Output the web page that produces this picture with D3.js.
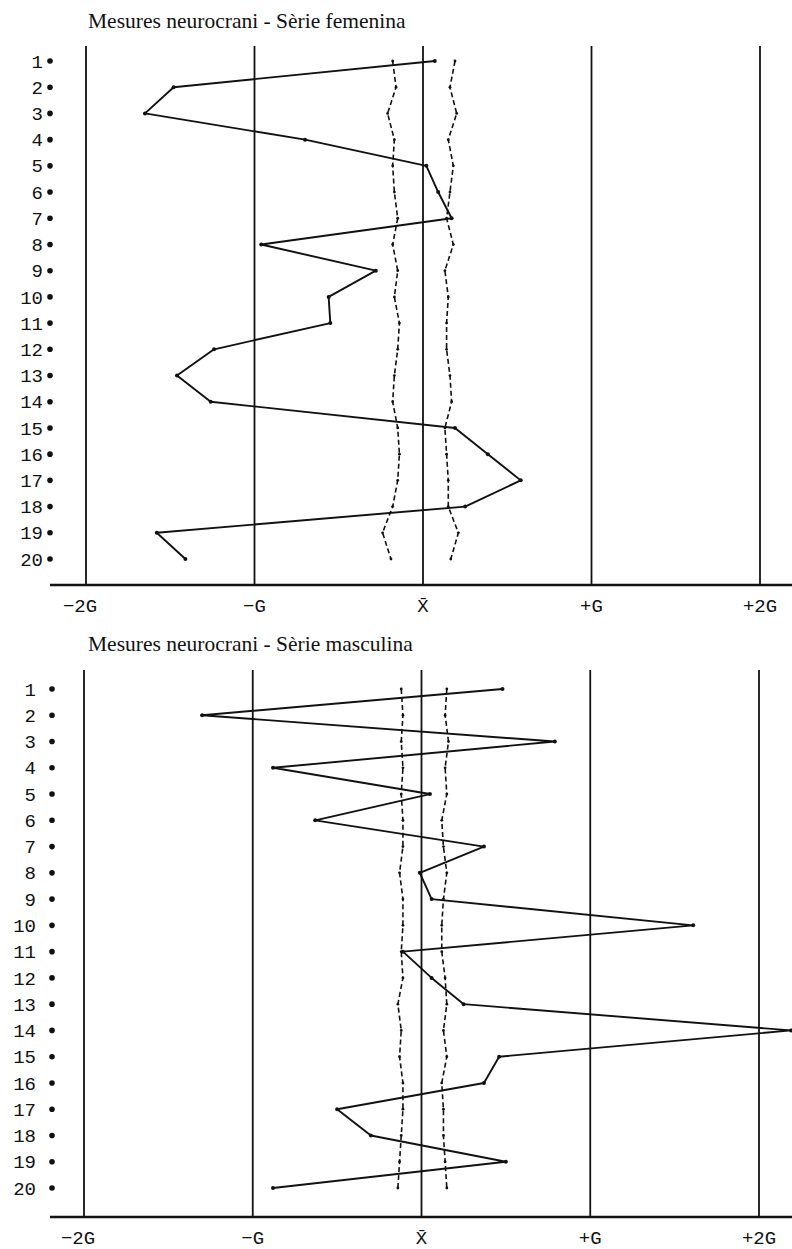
<!DOCTYPE html>
<html><head><meta charset="utf-8">
<script src="https://cdn.jsdelivr.net/npm/d3@7"></script>
<style>body{margin:0;background:#fff}</style>
</head><body>
<svg id="c" width="792" height="1249"></svg>
<script>
const rows = d3.range(1, 21);
const tickValues = [-2, -1, 0, 1, 2];
const tickLabels = ["\u22122G", "\u2212G", "X\u0304", "+G", "+2G"];

const femTitle = "Mesures neurocrani - Sèrie femenina";
const femValues = [0.07,-1.48,-1.65,-0.70,0.02,0.09,0.17,-0.96,-0.28,-0.56,-0.55,-1.24,-1.46,-1.26,0.19,0.385,0.58,0.25,-1.58,-1.41];
const femLow  = [-0.18,-0.16,-0.21,-0.17,-0.18,-0.17,-0.15,-0.18,-0.15,-0.17,-0.14,-0.15,-0.17,-0.18,-0.15,-0.14,-0.15,-0.18,-0.24,-0.19];
const femHigh = [0.19,0.16,0.20,0.15,0.18,0.16,0.14,0.18,0.13,0.15,0.14,0.14,0.16,0.17,0.13,0.14,0.15,0.15,0.21,0.165];

const masTitle = "Mesures neurocrani - Sèrie masculina";
const masValues = [0.48,-1.30,0.79,-0.88,0.05,-0.63,0.37,-0.01,0.06,1.61,-0.11,0.06,0.25,2.19,0.46,0.37,-0.50,-0.30,0.50,-0.88];
const masLow  = [-0.12,-0.11,-0.12,-0.11,-0.12,-0.11,-0.11,-0.13,-0.11,-0.11,-0.12,-0.11,-0.14,-0.12,-0.13,-0.11,-0.11,-0.12,-0.13,-0.14];
const masHigh = [0.15,0.14,0.16,0.14,0.15,0.12,0.13,0.15,0.13,0.12,0.12,0.14,0.15,0.13,0.15,0.12,0.13,0.13,0.14,0.15];

const svg = d3.select("#c");

function panel(cfg){
  const g = svg.append("g");
  const x = d3.scaleLinear().domain([-2, 2]).range(cfg.xr);
  const y = d3.scaleLinear().domain([1, 20]).range(cfg.yr);

  g.append("text").attr("x", 88).attr("y", cfg.titleY)
    .attr("font-family", "Liberation Serif, Times New Roman, serif")
    .attr("font-size", 21.5).attr("fill", "#111").text(cfg.title);

  g.selectAll(".v").data(tickValues).join("line")
    .attr("x1", d => x(d)).attr("x2", d => x(d))
    .attr("y1", cfg.lineTop).attr("y2", cfg.axisY)
    .attr("stroke", "#111").attr("stroke-width", 1.8);

  g.append("line").attr("x1", 50).attr("x2", 792)
    .attr("y1", cfg.axisY).attr("y2", cfg.axisY)
    .attr("stroke", "#111").attr("stroke-width", 2.4);

  g.selectAll(".tl").data(tickValues).join("text")
    .attr("x", (d, i) => x(d) + (i === 0 ? -6 : 0))
    .attr("y", cfg.axisY + 27)
    .attr("text-anchor", "middle")
    .attr("font-family", "Liberation Mono, DejaVu Sans Mono, monospace")
    .attr("font-size", 19).attr("fill", "#111")
    .text((d, i) => tickLabels[i]);

  g.selectAll(".rl").data(rows).join("text")
    .attr("x", cfg.labelX).attr("y", d => y(d))
    .attr("dy", "0.35em").attr("text-anchor", "end")
    .attr("font-family", "Liberation Mono, DejaVu Sans Mono, monospace")
    .attr("font-size", 19).attr("fill", "#111").text(d => d);
  g.selectAll(".rd").data(rows).join("circle")
    .attr("cx", cfg.dotX).attr("cy", d => y(d)).attr("r", 2.8).attr("fill", "#111");

  const line = d3.line().x(d => x(d[1])).y(d => y(d[0]));

  [cfg.low, cfg.high].forEach(arr => {
    const pts = arr.map((v, i) => [rows[i], v]);
    g.append("path").attr("d", line(pts)).attr("fill", "none")
      .attr("stroke", "#111").attr("stroke-width", 1.6)
      .attr("stroke-dasharray", "5,3");
    g.selectAll(null).data(pts).join("circle")
      .attr("cx", d => x(d[1])).attr("cy", d => y(d[0])).attr("r", 1.4).attr("fill", "#111");
  });

  const pts = cfg.values.map((v, i) => [rows[i], v]);
  g.append("path").attr("d", line(pts)).attr("fill", "none")
    .attr("stroke", "#111").attr("stroke-width", 1.9).attr("stroke-linejoin", "round");
  g.selectAll(null).data(pts).join("circle")
    .attr("cx", d => x(d[1])).attr("cy", d => y(d[0])).attr("r", 2).attr("fill", "#111");
}

panel({title: femTitle, titleY: 28, xr: [86, 760], yr: [61, 559], lineTop: 46, axisY: 585,
       labelX: 43, dotX: 50, values: femValues, low: femLow, high: femHigh});
panel({title: masTitle, titleY: 651, xr: [84, 759], yr: [689, 1188], lineTop: 670, axisY: 1217,
       labelX: 36, dotX: 52, values: masValues, low: masLow, high: masHigh});
</script>
</body></html>
